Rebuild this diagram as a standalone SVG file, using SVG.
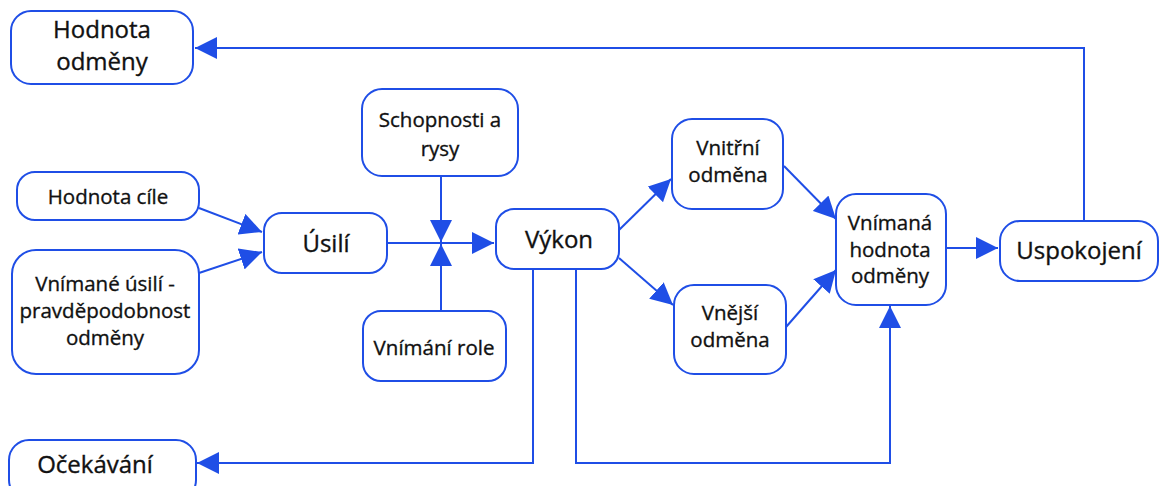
<svg xmlns="http://www.w3.org/2000/svg" width="1159" height="486" viewBox="0 0 1159 486">
<style>
.n{fill:#fff;stroke:#1f4ee6;stroke-width:2}
.t{font-family:"Open Sans","Noto Sans",sans-serif;font-weight:500;fill:#111;stroke:#111;stroke-width:0.35px;text-anchor:middle}
.l{font-size:24px}
.s{font-size:20.5px}
.c{fill:none;stroke:#1f4ee6;stroke-width:2}
</style>
<defs>
<marker id="a" viewBox="0 0 22 22" refX="22" refY="11" markerWidth="22" markerHeight="22" markerUnits="userSpaceOnUse" orient="auto">
<path d="M0,0 L22,11 L0,22 Z" fill="#1f4ee6"/>
</marker>
</defs>
<g id="connectors">
<path class="c" d="M1084,221 V48 H195" marker-end="url(#a)"/>
<path class="c" d="M199,208 L262,232" marker-end="url(#a)"/>
<path class="c" d="M199,273 L262,252" marker-end="url(#a)"/>
<path class="c" d="M387,243 H494" marker-end="url(#a)"/>
<path class="c" d="M441,176 V242" marker-end="url(#a)"/>
<path class="c" d="M441,311 V244" marker-end="url(#a)"/>
<path class="c" d="M619,230 L671,179" marker-end="url(#a)"/>
<path class="c" d="M619,258 L673,305" marker-end="url(#a)"/>
<path class="c" d="M784,166 L836,219" marker-end="url(#a)"/>
<path class="c" d="M786,327 L836,270" marker-end="url(#a)"/>
<path class="c" d="M943,248 H998" marker-end="url(#a)"/>
<path class="c" d="M533,269 V463 H197" marker-end="url(#a)"/>
<path class="c" d="M576,269 V463 H890 V306" marker-end="url(#a)"/>
</g>
<g id="hodnota-odmeny"><rect class="n" x="11" y="11" width="182" height="73" rx="20"/><text class="t l" x="102" y="38">Hodnota</text><text class="t l" x="102" y="70">odměny</text></g>
<g id="hodnota-cile"><rect class="n" x="17" y="172" width="182" height="48" rx="18"/><text class="t s" x="108" y="204">Hodnota cíle</text></g>
<g id="vnimane-usili"><rect class="n" x="12" y="250" width="187" height="124" rx="24"/><text class="t s" x="105" y="291">Vnímané úsilí -</text><text class="t s" x="105" y="318">pravděpodobnost</text><text class="t s" x="105" y="345">odměny</text></g>
<g id="usili"><rect class="n" x="264" y="213" width="123" height="60" rx="18"/><text class="t l" x="326" y="252">Úsilí</text></g>
<g id="schopnosti"><rect class="n" x="362" y="89" width="156" height="87" rx="20"/><text class="t s" x="440" y="127">Schopnosti a</text><text class="t s" x="440" y="156">rysy</text></g>
<g id="vnimani-role"><rect class="n" x="363" y="311" width="143" height="70" rx="18"/><text class="t s" x="434" y="355">Vnímání role</text></g>
<g id="vykon"><rect class="n" x="496" y="209" width="123" height="60" rx="18"/><text class="t l" x="559" y="248">Výkon</text></g>
<g id="vnitrni"><rect class="n" x="672" y="119" width="111" height="90" rx="20"/><text class="t s" x="728" y="155">Vnitřní</text><text class="t s" x="728" y="182">odměna</text></g>
<g id="vnejsi"><rect class="n" x="674" y="285" width="112" height="89" rx="20"/><text class="t s" x="730" y="320">Vnější</text><text class="t s" x="730" y="347">odměna</text></g>
<g id="vnimana-hodnota"><rect class="n" x="836" y="194" width="110" height="111" rx="20"/><text class="t s" x="890" y="230">Vnímaná</text><text class="t s" x="890" y="257">hodnota</text><text class="t s" x="890" y="283">odměny</text></g>
<g id="uspokojeni"><rect class="n" x="1000" y="221" width="158" height="60" rx="20"/><text class="t l" x="1079" y="259">Uspokojení</text></g>
<g id="ocekavani"><rect class="n" x="9" y="440" width="187" height="60" rx="20"/><text class="t l" x="95" y="473">Očekávání</text></g>
</svg>
